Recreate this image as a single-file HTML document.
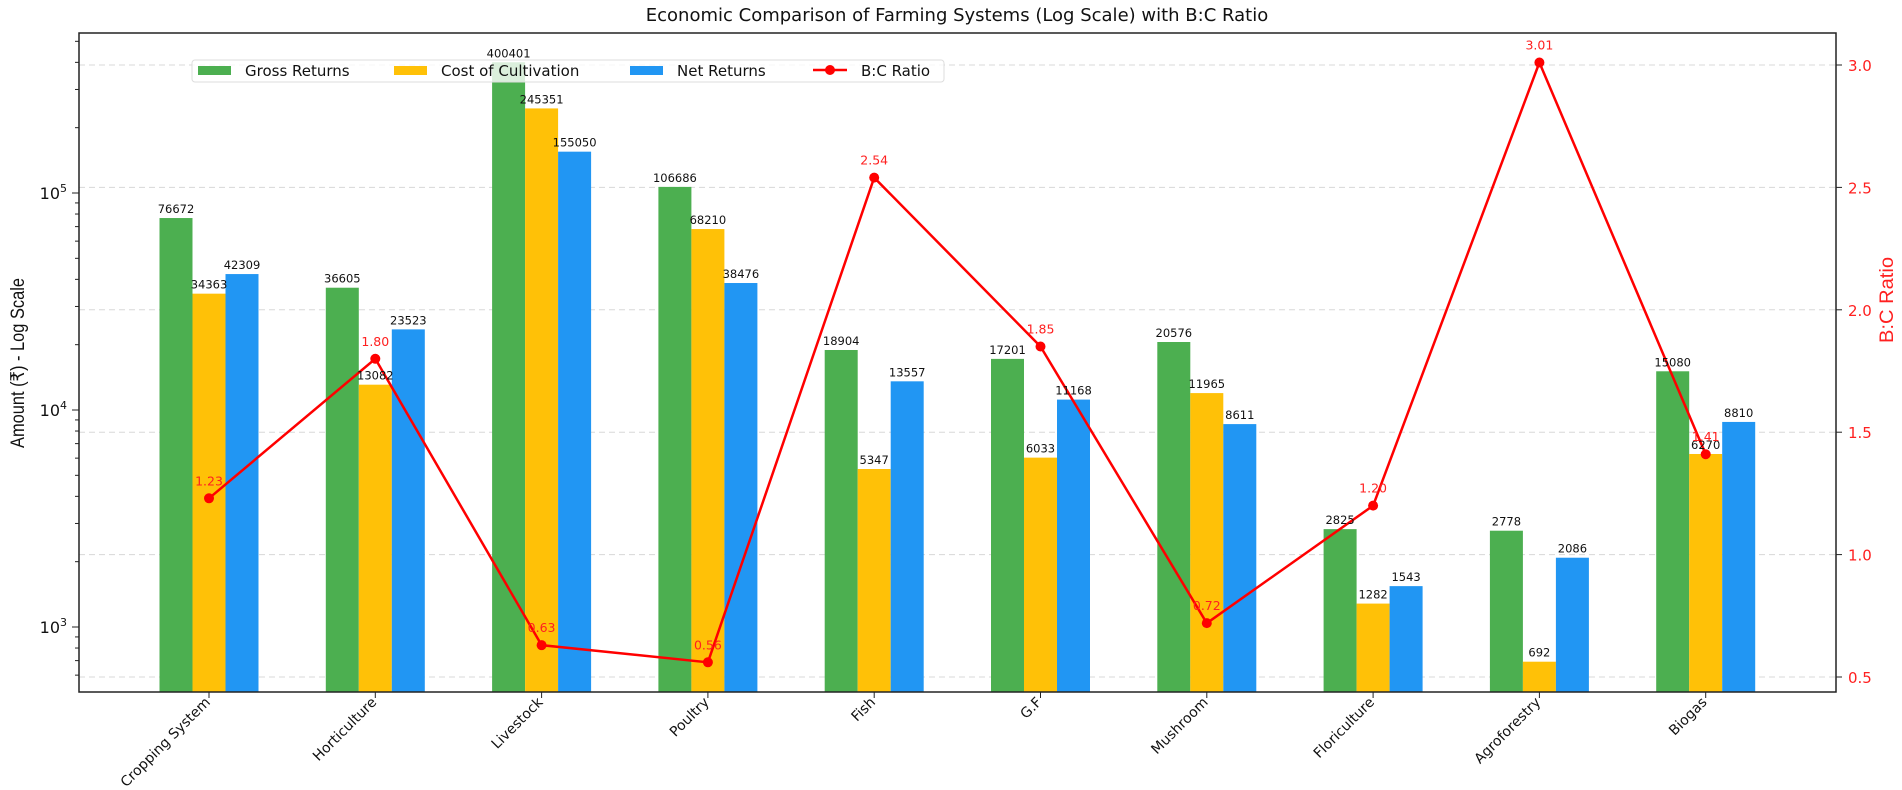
<!DOCTYPE html>
<html><head><meta charset="utf-8"><style>
html,body{margin:0;padding:0;background:#fff;}
svg{display:block;font-family:"Liberation Sans","DejaVu Sans",sans-serif;}
</style></head><body>
<svg id="chart" width="1902" height="790" viewBox="0 0 1902 790" xmlns="http://www.w3.org/2000/svg">
<text x="957" y="21" text-anchor="middle" font-size="18" fill="#111" font-family="DejaVu Sans, sans-serif">Economic Comparison of Farming Systems (Log Scale) with B:C Ratio</text>
<g id="grid"></g><g id="bars"></g><g id="line"></g><g id="axes"></g>
</svg>
<script>
const categories = ["Cropping System","Horticulture","Livestock","Poultry","Fish","G.F","Mushroom","Floriculture","Agroforestry","Biogas"];
const grossReturns = [76672,36605,400401,106686,18904,17201,20576,2825,2778,15080];
const costOfCultivation = [34363,13082,245351,68210,5347,6033,11965,1282,692,6270];
const netReturns = [42309,23523,155050,38476,13557,11168,8611,1543,2086,8810];
const bcRatio = [1.23,1.80,0.63,0.56,2.54,1.85,0.72,1.20,3.01,1.41];
const rightTicks = [0.5,1.0,1.5,2.0,2.5,3.0];
const leftMajor = [1000,10000,100000];

const NS="http://www.w3.org/2000/svg";
const L=79,R=1836,T=33,B=692;
const y10_3=627, decade=217;
function yLog(v){return y10_3-(Math.log10(v)-3)*decade;}
function yR(v){return 677-(v-0.5)*244.8;}
const step=166.3, x0=209;
function xC(i){return x0+i*step;}
const bw=33;
function mk(tag,attrs,parent,text){const e=document.createElementNS(NS,tag);for(const k in attrs)e.setAttribute(k,attrs[k]);if(text!==undefined)e.textContent=text;parent.appendChild(e);return e;}
const grid=document.getElementById('grid'),bars=document.getElementById('bars'),line=document.getElementById('line'),axes=document.getElementById('axes');

rightTicks.forEach(t=>{const g=mk('line',{x1:L,x2:R,y1:yR(t),y2:yR(t),stroke:'#d8d8d8','stroke-width':1,'stroke-dasharray':'6,4'},grid);

});

const series=[[grossReturns,'#4CAF50','gross'],[costOfCultivation,'#FFC107','cost'],[netReturns,'#2196F3','net']];
const labelsG=document.createElementNS(NS,'g');
series.forEach((s,si)=>{s[0].forEach((v,i)=>{const cx=xC(i)+(si-1)*bw;const y=yLog(v);
const r=mk('rect',{x:cx-bw/2,y:y,width:bw,height:B-y,fill:s[1]},bars);


const t=mk('text',{x:cx,y:y-5,'text-anchor':'middle','font-size':11.5,fill:'#111','font-family':'DejaVu Sans, sans-serif'},labelsG,String(v));

});});

const pts=bcRatio.map((v,i)=>xC(i)+','+yR(v)).join(' ');
const pl=mk('polyline',{points:pts,fill:'none',stroke:'#ff0000','stroke-width':2.5},line);


bcRatio.forEach((v,i)=>{const c=mk('circle',{cx:xC(i),cy:yR(v),r:5,fill:'#ff0000'},line);


const t=mk('text',{x:xC(i),y:yR(v)-13,'text-anchor':'middle','font-size':12.5,fill:'#ff2020','font-family':'DejaVu Sans, sans-serif'},labelsG,v.toFixed(2));

});

const fr=mk('rect',{x:L,y:T,width:R-L,height:B-T,fill:'none',stroke:'#222','stroke-width':1.5},axes);


for(let e=2;e<=5;e++){for(let m=1;m<=9;m++){const v=m*Math.pow(10,e);const y=yLog(v);if(y<T||y>B)continue;
mk('line',{x1:L,x2:L-(m===1?7:4),y1:y,y2:y,stroke:'#222','stroke-width':1},axes);}}
leftMajor.forEach(v=>{const y=yLog(v);const t=mk('text',{x:L-12,y:y+6,'text-anchor':'end','font-size':16,fill:'#111','font-family':'DejaVu Sans, sans-serif'},axes);


mk('tspan',{},t,'10');mk('tspan',{dy:-7,'font-size':11},t,String(Math.round(Math.log10(v))));});
rightTicks.forEach(v=>{const y=yR(v);mk('line',{x1:R,x2:R+6,y1:y,y2:y,stroke:'#222'},axes);
const t=mk('text',{x:R+12,y:y+6,'font-size':15,fill:'#ff2020','font-family':'DejaVu Sans, sans-serif'},axes,v.toFixed(1));

});
categories.forEach((c,i)=>{const x=xC(i);mk('line',{x1:x,x2:x,y1:B,y2:B+6,stroke:'#222'},axes);
const t=mk('text',{x:x+2,y:B+11,'text-anchor':'end','font-size':14,fill:'#111','font-family':'DejaVu Sans, sans-serif',transform:'rotate(-45 '+(x+2)+' '+(B+11)+')'},axes,c);

});
const yl=mk('text',{x:0,y:0,'text-anchor':'middle','font-size':19,fill:'#111',textLength:170,lengthAdjust:'spacingAndGlyphs',transform:'translate(24 363) rotate(-90)'},axes,'Amount (₹) - Log Scale');


const yr=mk('text',{x:0,y:0,'text-anchor':'middle','font-size':19,fill:'#ff2020',textLength:86,lengthAdjust:'spacingAndGlyphs',transform:'translate(1893 300) rotate(-90)'},axes,'B:C Ratio');



// legend
const lg=mk('g',{},axes);


mk('rect',{x:192,y:60,width:752,height:22,rx:3,fill:'#fff','fill-opacity':0.8,stroke:'#ddd'},lg);
const items=[['Gross Returns','#4CAF50',198],['Cost of Cultivation','#FFC107',394],['Net Returns','#2196F3',630]];
items.forEach(it=>{mk('rect',{x:it[2],y:66,width:33,height:9,fill:it[1]},lg);
const t=mk('text',{x:it[2]+47,y:76,'font-size':15,fill:'#111','font-family':'DejaVu Sans, sans-serif'},lg,it[0]);

});
mk('line',{x1:813,x2:847,y1:70,y2:70,stroke:'#ff0000','stroke-width':2.5},lg);
mk('circle',{cx:830,cy:70,r:5,fill:'#ff0000'},lg);
const lt=mk('text',{x:861,y:76,'font-size':15,fill:'#111','font-family':'DejaVu Sans, sans-serif'},lg,'B:C Ratio');


document.getElementById('chart').appendChild(labelsG);


</script>
</body></html>
